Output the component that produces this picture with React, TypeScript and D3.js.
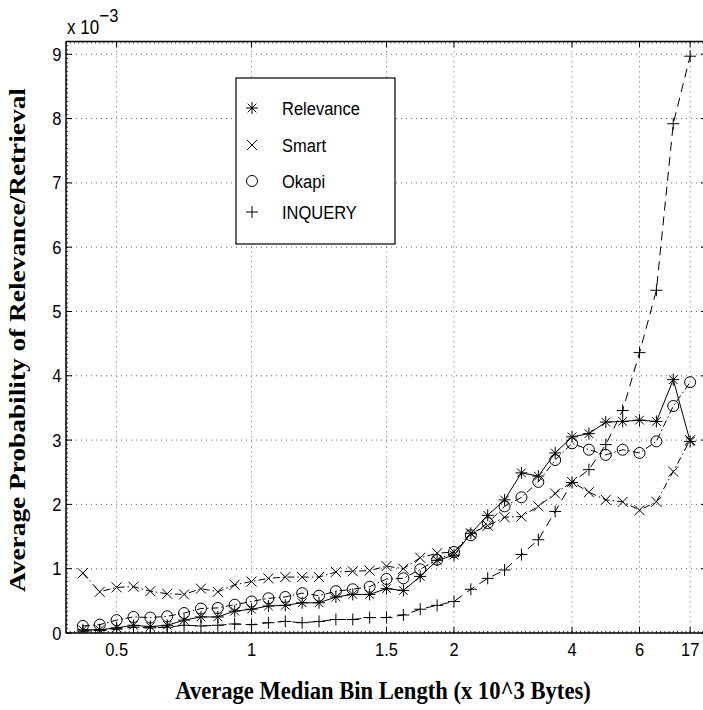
import React from "react";
import * as d3 from "d3";

// Bin-length tick labels and the bin index each one sits on
const tickLabels = ["0.5", "1", "1.5", "2", "4", "6", "17"];
const tickIndex = [2, 10, 18, 22, 29, 33, 36];
const yTicks = [0, 1, 2, 3, 4, 5, 6, 7, 8, 9];

// Average probability (x 10^-3) per bin
const relevance = [0.05, 0.05, 0.08, 0.12, 0.1, 0.12, 0.2, 0.25, 0.25, 0.34, 0.37, 0.42, 0.43, 0.47, 0.47, 0.56, 0.6, 0.6, 0.69, 0.66, 0.88, 1.13, 1.21, 1.55, 1.83, 2.07, 2.49, 2.44, 2.8, 3.05, 3.1, 3.28, 3.29, 3.31, 3.29, 3.94, 2.98];
const smart = [0.93, 0.64, 0.71, 0.72, 0.65, 0.61, 0.6, 0.69, 0.64, 0.75, 0.8, 0.85, 0.87, 0.87, 0.87, 0.95, 0.96, 0.97, 1.04, 1.0, 1.17, 1.24, 1.26, 1.55, 1.67, 1.8, 1.81, 1.97, 2.17, 2.35, 2.19, 2.07, 2.04, 1.91, 2.04, 2.51, 3.0];
const okapi = [0.11, 0.13, 0.2, 0.25, 0.24, 0.26, 0.31, 0.38, 0.39, 0.44, 0.49, 0.54, 0.56, 0.62, 0.58, 0.65, 0.68, 0.72, 0.84, 0.85, 0.99, 1.14, 1.26, 1.52, 1.71, 1.97, 2.11, 2.35, 2.69, 2.95, 2.85, 2.77, 2.85, 2.8, 2.98, 3.53, 3.9];
const inquery = [0.03, 0.04, 0.06, 0.09, 0.08, 0.09, 0.12, 0.11, 0.12, 0.14, 0.13, 0.16, 0.18, 0.16, 0.18, 0.21, 0.21, 0.24, 0.24, 0.28, 0.37, 0.43, 0.49, 0.68, 0.85, 0.98, 1.22, 1.45, 1.89, 2.34, 2.54, 2.93, 3.46, 4.36, 5.33, 7.92, 8.97];

const seriesNames = ["Relevance", "Smart", "Okapi", "INQUERY"];
const seriesValues = [relevance, smart, okapi, inquery];
const seriesMarkers = ["star", "cross", "circle", "plus"];
const seriesDash = ["none", "7,3,1.5,3", "7,3,1.5,3", "9,6"];

const W = 703;
const H = 710;
const plot = { left: 66, right: 707, top: 41.4, bottom: 633 };

const x = d3.scaleLinear().domain([-1, 37]).range([plot.left, plot.right]);
const y = d3.scaleLinear().domain([0, 9.2]).range([plot.bottom, plot.top]);

const SANS = "'Liberation Sans', Arial, Helvetica, sans-serif";
const SERIF = "'Liberation Serif', 'Times New Roman', serif";
const STRETCH = 1.14;

function Marker({ kind, cx, cy }: { kind: string; cx: number; cy: number }) {
  const common = { fill: "none", stroke: "#000", strokeWidth: 1 };
  if (kind === "circle") return <circle cx={cx} cy={cy} r={5.5} {...common} />;
  let d = "";
  if (kind === "plus") {
    const r = 6;
    d = `M${cx - r},${cy}H${cx + r}M${cx},${cy - r}V${cy + r}`;
  } else if (kind === "cross") {
    const r = 5;
    d = `M${cx - r},${cy - r}L${cx + r},${cy + r}M${cx - r},${cy + r}L${cx + r},${cy - r}`;
  } else {
    const r = 6;
    const q = r * 0.72;
    d = `M${cx - r},${cy}H${cx + r}M${cx},${cy - r}V${cy + r}M${cx - q},${cy - q}L${cx + q},${cy + q}M${cx - q},${cy + q}L${cx + q},${cy - q}`;
  }
  return <path d={d} {...common} />;
}

function SText({ x0, y0, size, anchor, family, weight, children }: any) {
  return (
    <text
      transform={`translate(${x0},${y0}) scale(1,${STRETCH})`}
      fontSize={size}
      textAnchor={anchor}
      fontFamily={family}
      fontWeight={weight}
      fill="#000"
    >
      {children}
    </text>
  );
}

export default function App() {
  const line = d3
    .line<number>()
    .x((_, i) => x(i))
    .y((v) => y(v));

  const xMinor = d3.range(-1, 37.01, 0.25);
  const yMinor = d3.range(0, 9.2, 1 / 15);

  const legendRows = [108, 145, 181, 212];

  return (
    <svg
      width={W}
      height={H}
      style={{ position: "absolute", left: 0, top: 0, background: "#fff" }}
    >
      <rect x={0} y={0} width={W} height={H} fill="#fff" />
      <defs>
        <clipPath id="plotArea">
          <rect x={plot.left} y={plot.top - 8} width={plot.right - plot.left} height={plot.bottom - plot.top + 8} />
        </clipPath>
      </defs>

      {/* dotted grid */}
      <g stroke="#555" strokeWidth={0.9} strokeDasharray="1,4">
        {tickIndex.map((t) => (
          <line key={"gx" + t} x1={x(t)} x2={x(t)} y1={plot.top} y2={plot.bottom} />
        ))}
        {yTicks.slice(1).map((t) => (
          <line key={"gy" + t} x1={plot.left} x2={plot.right} y1={y(t)} y2={y(t)} />
        ))}
      </g>

      {/* series lines and markers */}
      <g clipPath="url(#plotArea)">
        {seriesValues.map((vals, s) => (
          <path
            key={"l" + s}
            d={line(vals) || ""}
            fill="none"
            stroke="#000"
            strokeWidth={1}
            strokeDasharray={seriesDash[s] === "none" ? undefined : seriesDash[s]}
          />
        ))}
        {seriesValues.map((vals, s) =>
          vals.map((v, i) => <Marker key={`m${s}-${i}`} kind={seriesMarkers[s]} cx={x(i)} cy={y(v)} />)
        )}
      </g>

      {/* axes box with ticks */}
      <g stroke="#000" fill="none">
        <line x1={plot.left} x2={plot.right} y1={plot.bottom} y2={plot.bottom} strokeWidth={1.5} />
        <line x1={plot.left} x2={plot.right} y1={plot.top} y2={plot.top} strokeWidth={1.5} />
        <line x1={plot.left} x2={plot.left} y1={plot.top} y2={plot.bottom} strokeWidth={1.5} />
        <line x1={plot.right} x2={plot.right} y1={plot.top} y2={plot.bottom} strokeWidth={1.5} />
        {xMinor.map((t, i) => (
          <g key={"xm" + i} strokeWidth={0.8}>
            <line x1={x(t)} x2={x(t)} y1={plot.bottom} y2={plot.bottom - 2} />
            <line x1={x(t)} x2={x(t)} y1={plot.top} y2={plot.top + 2} />
          </g>
        ))}
        {yMinor.map((t, i) => (
          <g key={"ym" + i} strokeWidth={0.8}>
            <line x1={plot.left} x2={plot.left + 2} y1={y(t)} y2={y(t)} />
            <line x1={plot.right} x2={plot.right - 2} y1={y(t)} y2={y(t)} />
          </g>
        ))}
        {tickIndex.map((t) => (
          <g key={"xt" + t} strokeWidth={1}>
            <line x1={x(t)} x2={x(t)} y1={plot.bottom} y2={plot.bottom - 6} />
            <line x1={x(t)} x2={x(t)} y1={plot.top} y2={plot.top + 6} />
          </g>
        ))}
        {yTicks.map((t) => (
          <g key={"yt" + t} strokeWidth={1}>
            <line x1={plot.left} x2={plot.left + 6} y1={y(t)} y2={y(t)} />
            <line x1={plot.right} x2={plot.right - 6} y1={y(t)} y2={y(t)} />
          </g>
        ))}
      </g>

      {/* tick labels */}
      {tickIndex.map((t, i) => (
        <SText key={"xl" + t} x0={x(t)} y0={656} size={16.5} anchor="middle" family={SANS}>
          {tickLabels[i]}
        </SText>
      ))}
      {yTicks.map((t) => (
        <SText key={"yl" + t} x0={61.5} y0={y(t) + 6.5} size={16.5} anchor="end" family={SANS}>
          {String(t)}
        </SText>
      ))}

      {/* exponent */}
      <SText x0={67} y0={34} size={17} anchor="start" family={SANS}>
        x 10
      </SText>
      <SText x0={99.5} y0={22} size={16.5} anchor="start" family={SANS}>
        −3
      </SText>

      {/* legend */}
      <rect x={236} y={78} width={159} height={166} fill="#fff" stroke="#000" strokeWidth={1.2} />
      {seriesNames.map((name, s) => (
        <g key={"lg" + s}>
          <Marker kind={seriesMarkers[s]} cx={252} cy={legendRows[s]} />
          <SText x0={282} y0={legendRows[s] + 6.5} size={16.5} anchor="start" family={SANS}>
            {name}
          </SText>
        </g>
      ))}

      {/* axis titles */}
      <SText x0={383} y0={699} size={22.6} anchor="middle" family={SERIF} weight="bold">
        Average Median Bin Length (x 10^3 Bytes)
      </SText>
      <text
        transform={`translate(25,340) rotate(-90) scale(1.21,1)`}
        fontSize={22.6}
        textAnchor="middle"
        fontFamily={SERIF}
        fontWeight="bold"
        fill="#000"
      >
        Average Probability of Relevance/Retrieval
      </text>
    </svg>
  );
}
